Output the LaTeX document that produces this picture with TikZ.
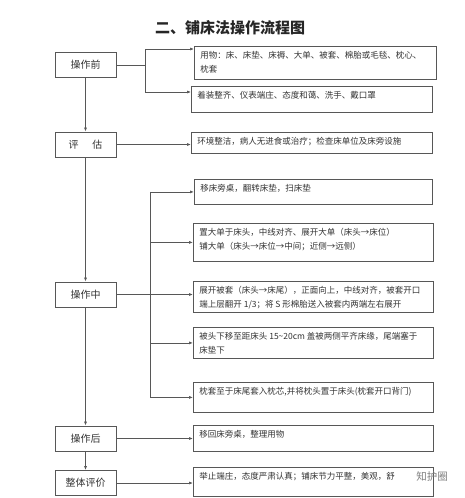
\documentclass[tikz,border=0pt]{standalone}
\usepackage{fontspec}
\newfontfamily\cjk{Noto Sans CJK SC}
\usetikzlibrary{arrows.meta}
\definecolor{linegray}{gray}{0.34}
\definecolor{textgray}{gray}{0.2}
% text block of a note box: width, height, lines
\newcommand{\boxlines}[3]{\parbox[c][#2pt][t]{#1pt}{\leftskip=6pt\rule{0pt}{12pt}#3}}

\begin{document}
\begin{tikzpicture}[x=1pt, y=-1pt,
  stage/.style={draw=linegray, line width=0.8pt, minimum width=61pt, minimum height=25pt,
    inner sep=0pt, text=textgray, font=\cjk\fontsize{10}{12}\selectfont},
  note/.style={draw=linegray, line width=0.8pt, anchor=north west, inner sep=0pt,
    text=textgray, font=\cjk\fontsize{8.5}{14}\selectfont},
  wire/.style={draw=linegray, line width=0.7pt},
  link/.style={wire, -{Latex[length=4pt,width=3pt]}}]
\fill[white] (0,0) rectangle (465,498);
\useasboundingbox (0,0) rectangle (465,498);

\node[text=black!85, font=\cjk\bfseries\fontsize{15}{18}\selectfont] (title) at (230,28) {二、铺床法操作流程图};

% stages on the left
\foreach \name/\y/\txt in {pre/65/操作前, eval/144.5/评\hspace{1.4em}估, mid/294.5/操作中,
    post/438.5/操作后, sum/483/整体评价} {
  \node[stage] (\name) at (85.5,\y) {\txt};
}

% notes on the right
\foreach \name/\x/\y/\w/\h/\txt in {
    items/194/46/242/33/{用物：床、床垫、床褥、大单、被套、棉胎或毛毯、枕心、\\枕套},
    dress/191/86/241/26/{着装整齐、仪表端庄、态度和蔼、洗手、戴口罩},
    env/191/132/241/21/{环境整洁，病人无进食或治疗；检查床单位及床旁设施},
    move/194/179/238/25/{移床旁桌，翻转床垫，扫床垫},
    sheet/193/223/240/38/{置大单于床头，中线对齐、展开大单（床头→床位）\\铺大单（床头→床位→中间；近侧→远侧）},
    cover/193/281/240/31/{展开被套（床头→床尾），正面向上，中线对齐，被套开口\\端上层翻开 1/3；将 S 形棉胎送入被套内两端左右展开},
    tuck/193/327/240/31/{被头下移至距床头 15\textasciitilde 20cm 盖被两侧平齐床缘，尾端塞于\\床垫下},
    pillow/193/382/240/30/{枕套至于床尾套入枕芯,并将枕头置于床头(枕套开口背门)},
    tidy/193/425/240/26/{移回床旁桌，整理用物},
    manner/193/467/240/29/{举止端庄，态度严肃认真；铺床节力平整，美观，舒}} {
  \node[note] (\name) at (\x,\y) {\boxlines{\w}{\h}{\txt}};
}

% main flow
\draw[link] (pre) -- (eval);
\draw[link] (eval) -- (mid);
\draw[link] (mid) -- (post);
\draw[link] (post) -- (sum);

% before
\coordinate (fork) at ([xshift=29pt]pre.east);
\draw[wire] (pre.east) -- (fork);
\draw[link] (fork) |- ([yshift=-3pt]items.north west);
\draw[link] (fork) |- ([yshift=-6pt]dress.north west);

\draw[link] (eval.east) -- (eval.east -| env.west);

% during
\draw[link] (mid.east) -- (mid.east -| cover.west);
\coordinate (split) at ([xshift=34pt]mid.east);
\draw[wire] (split |- move.west) -- (split |- pillow.west);
\foreach \t in {move, sheet, tuck, pillow} {
  \draw[link] (split |- \t.west) -- (\t.west);
}

\draw[link] (post.east) -- (post.east -| tidy.west);
\draw[link] (sum.east) -- (sum.east -| manner.west);

\node[text=black!50, font=\cjk\fontsize{10.5}{12}\selectfont] (mark) at (432,477) {知护圈};
\end{tikzpicture}
\end{document}
